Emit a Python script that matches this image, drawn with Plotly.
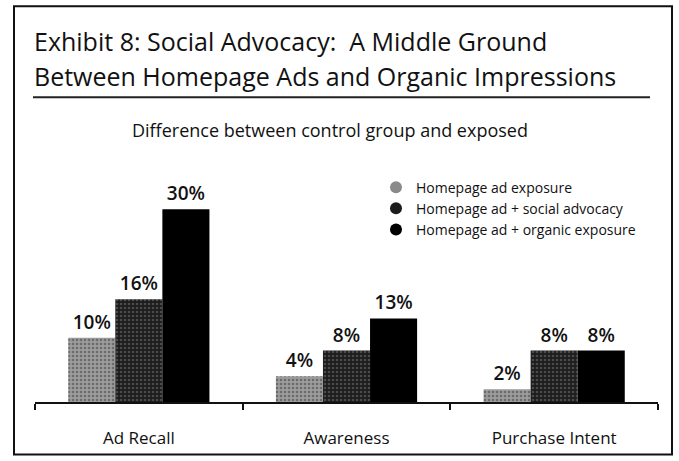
import plotly.graph_objects as go

categories = ["Ad Recall", "Awareness", "Purchase Intent"]
series_names = ["Homepage ad exposure", "Homepage ad + social advocacy", "Homepage ad + organic exposure"]
homepage_ad = [10, 4, 2]
social_advocacy = [16, 8, 8]
organic = [30, 13, 8]
values = [homepage_ad, social_advocacy, organic]

bar_colors = ["#9c9c9c", "#1c1c1c", "#000000"]
legend_colors = ["#8a8a8a", "#1c1c1c", "#000000"]
pattern_fg = ["#3a3a3a", "#7a7a7a", "#000000"]
pattern_shape = [".", ".", ""]

W, H = 679, 461
L, R, T, B = 35, 21, 130, 56
plot_w = W - L - R
plot_h = H - T - B

def px_x(x):
    return (x - L) / plot_w

def px_y(y):
    return (H - B - y) / plot_h

fig = go.Figure()
for i, name in enumerate(series_names):
    fig.add_trace(go.Bar(
        x=categories, y=values[i], name=name, showlegend=False,
        marker=dict(color=bar_colors[i], line=dict(width=0),
                    pattern=dict(shape=pattern_shape[i], fgcolor=pattern_fg[i], size=4, solidity=0.35)),
        text=[f"{v}%" for v in values[i]], textposition="outside",
        textfont=dict(size=19, color="#111", family="Open Sans", weight=600),
        cliponaxis=False,
    ))
    fig.add_trace(go.Scatter(
        x=[None], y=[None], mode="markers", name=name,
        marker=dict(symbol="circle", size=12, color=legend_colors[i]),
    ))

fig.update_layout(
    width=W, height=H,
    margin=dict(l=L, r=R, t=T, b=B),
    paper_bgcolor="white", plot_bgcolor="white",
    barmode="group", bargap=0.32, bargroupgap=0,
    font=dict(family="Open Sans", color="#111"),
    legend=dict(x=px_x(376), y=px_y(172), xanchor="left", yanchor="top",
                font=dict(size=14, family="Open Sans"), tracegroupgap=0,
                bgcolor="rgba(0,0,0,0)", itemwidth=30),
    xaxis=dict(range=[-0.5, 2.5], showline=True, linecolor="#111", linewidth=2,
               ticks="outside", tickson="boundaries", ticklen=6, tickwidth=2, tickcolor="#111",
               ticklabelstandoff=20,
               tickfont=dict(size=17, family="Open Sans"), showgrid=False),
    yaxis=dict(range=[0, plot_h / 6.5], visible=False, showgrid=False, zeroline=False),
    annotations=[
        dict(text="Exhibit 8: Social Advocacy:  A Middle Ground", xref="paper", yref="paper",
             x=px_x(32), y=px_y(40), xanchor="left", yanchor="middle", showarrow=False,
             font=dict(size=25, family="Open Sans", color="#111")),
        dict(text="Between Homepage Ads and Organic Impressions", xref="paper", yref="paper",
             x=px_x(32), y=px_y(75), xanchor="left", yanchor="middle", showarrow=False,
             font=dict(size=25, family="Open Sans", color="#111")),
        dict(text="Difference between control group and exposed", xref="paper", yref="paper",
             x=px_x(330), y=px_y(130), xanchor="center", yanchor="middle", showarrow=False,
             font=dict(size=18, family="Open Sans", color="#111")),
    ],
    shapes=[
        dict(type="rect", xref="paper", yref="paper", x0=px_x(14), x1=px_x(672),
             y0=px_y(458), y1=px_y(5), line=dict(color="#111", width=2), fillcolor="rgba(0,0,0,0)"),
        dict(type="line", xref="paper", yref="paper", x0=px_x(33), x1=px_x(650),
             y0=px_y(97), y1=px_y(97), line=dict(color="#222", width=2)),
    ],
)

fig.write_html("out.html", config={"displayModeBar": False},
               post_script="document.body.style.margin='0';document.body.style.padding='0';")
